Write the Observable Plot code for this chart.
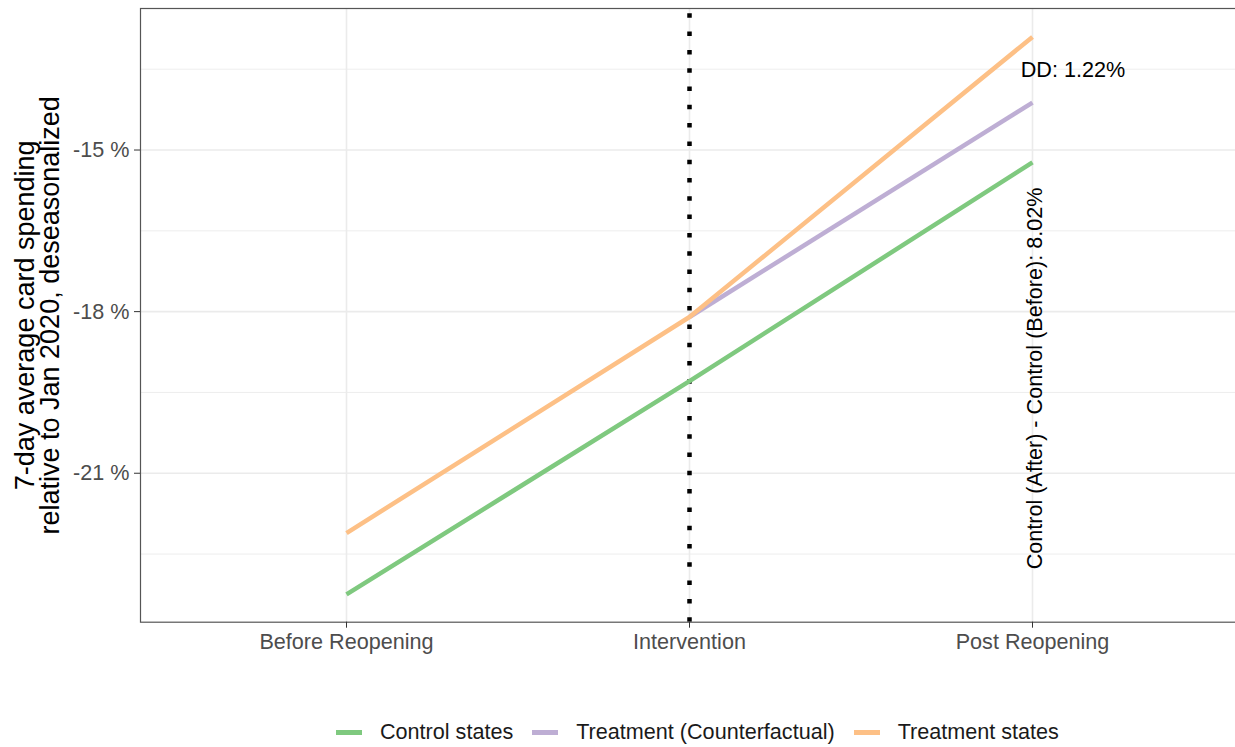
<!DOCTYPE html>
<html>
<head>
<meta charset="utf-8">
<script src="https://cdn.jsdelivr.net/npm/d3@7"></script>
<script src="https://cdn.jsdelivr.net/npm/@observablehq/plot@0.6"></script>
<style>
  html, body { margin: 0; padding: 0; background: white; overflow: hidden; }
  #chart svg { max-width: none !important; }
  #legend { display: flex; align-items: center; height: 40px; padding-left: 336px;
            font-family: "Liberation Sans", Arial, sans-serif; font-size: 21.6px; color: #1a1a1a; }
  .item { display: flex; align-items: center; margin-right: 19px; white-space: nowrap; }
  .sw { width: 26px; height: 5px; margin-right: 18px; }
</style>
</head>
<body>
<div id="chart"></div>
<div id="legend"></div>
<script>
// ---- data ----
const stages = ["Before Reopening", "Intervention", "Post Reopening"];
const seriesNames = ["Control states", "Treatment (Counterfactual)", "Treatment states"];
const seriesColors = ["#7FC97F", "#BEAED4", "#FDC086"];
const controlValues = [-23.25, -19.29, -15.23];
const counterfactualStages = ["Intervention", "Post Reopening"];
const counterfactualValues = [-18.10, -14.12];
const treatmentValues = [-22.11, -18.10, -12.90];
const yTicks = [-15, -18, -21];
const yMinor = [-13.5, -16.5, -19.5, -22.5];
const ddLabel = "DD: 1.22%";
const controlDiffLabel = "Control (After) - Control (Before): 8.02%";
const yTitle1 = "7-day average card spending";
const yTitle2 = "relative to Jan 2020, deseasonalized";
const interventionStage = "Intervention";

// ---- build table ----
const rows = [];
stages.forEach((s, i) => rows.push({series: seriesNames[0], stage: s, value: controlValues[i]}));
counterfactualStages.forEach((s, i) => rows.push({series: seriesNames[1], stage: s, value: counterfactualValues[i]}));
stages.forEach((s, i) => rows.push({series: seriesNames[2], stage: s, value: treatmentValues[i]}));

const yDomain = [-23.765, -12.373];
const svgH = 712, panelTop = 8, panelBottom = 621.7;
const fontFam = "Liberation Sans, Arial, sans-serif";

const ddData = [{stage: "Post Reopening", value: (treatmentValues[2] + counterfactualValues[1]) / 2, label: ddLabel}];
const cdData = [{stage: "Post Reopening", value: (controlValues[2] + controlValues[0]) / 2, label: controlDiffLabel}];

const chart = Plot.plot({
  width: 1241,
  height: svgH,
  marginTop: panelTop,
  marginBottom: svgH - panelBottom,
  marginLeft: 140,
  marginRight: 0,
  style: {fontFamily: fontFam, fontSize: "21.6px", background: "white", overflow: "visible", maxWidth: "none"},
  x: {type: "point", domain: stages, range: [345.7, 1033.3], padding: 0},
  y: {domain: yDomain},
  color: {domain: seriesNames, range: seriesColors},
  marks: [
    Plot.gridY({ticks: yMinor, stroke: "#EBEBEB", strokeOpacity: 1, strokeWidth: 0.9}),
    Plot.gridY({ticks: yTicks, stroke: "#EBEBEB", strokeOpacity: 1, strokeWidth: 1.6}),
    Plot.gridX({stroke: "#EBEBEB", strokeOpacity: 1, strokeWidth: 1.6}),
    Plot.ruleX([interventionStage], {x: d => d, y1: yDomain[0], y2: yDomain[1], stroke: "black", strokeWidth: 4.5, strokeDasharray: "4.5 13.8", strokeLinecap: "butt"}),
    Plot.line(rows, {x: "stage", y: "value", z: "series", stroke: "series", strokeWidth: 4.5, strokeLinecap: "butt"}),
    Plot.frame({stroke: "#555", strokeWidth: 1.2}),
    Plot.axisY({ticks: yTicks, tickFormat: d => `${d} %`, tickSize: 6, tickPadding: 5, fontSize: 21.6, color: "#4D4D4D", stroke: "#333", label: null}),
    Plot.axisX({tickSize: 6, tickPadding: 5, fontSize: 21.6, color: "#4D4D4D", stroke: "#333", label: null}),
    Plot.text(ddData, {x: "stage", y: "value", text: "label", dx: 40.4, fontSize: 21.6, fill: "black"}),
    Plot.text(cdData, {x: "stage", y: "value", text: "label", rotate: -90, dx: 3, fontSize: 21.6, fill: "black"}),
    Plot.text([yTitle1], {frameAnchor: "left", textAnchor: "middle", text: d => d, rotate: -90, dx: -115.6, fontSize: 27, fill: "black"}),
    Plot.text([yTitle2], {frameAnchor: "left", textAnchor: "middle", text: d => d, rotate: -90, dx: -90.6, fontSize: 27, fill: "black"})
  ]
});
document.getElementById("chart").appendChild(chart);

// ---- legend ----
const legend = document.getElementById("legend");
seriesNames.forEach((name, i) => {
  const item = document.createElement("div");
  item.className = "item";
  const sw = document.createElement("span");
  sw.className = "sw";
  sw.style.background = seriesColors[i];
  const t = document.createElement("span");
  t.textContent = name;
  item.appendChild(sw);
  item.appendChild(t);
  legend.appendChild(item);
});
</script>
</body>
</html>
